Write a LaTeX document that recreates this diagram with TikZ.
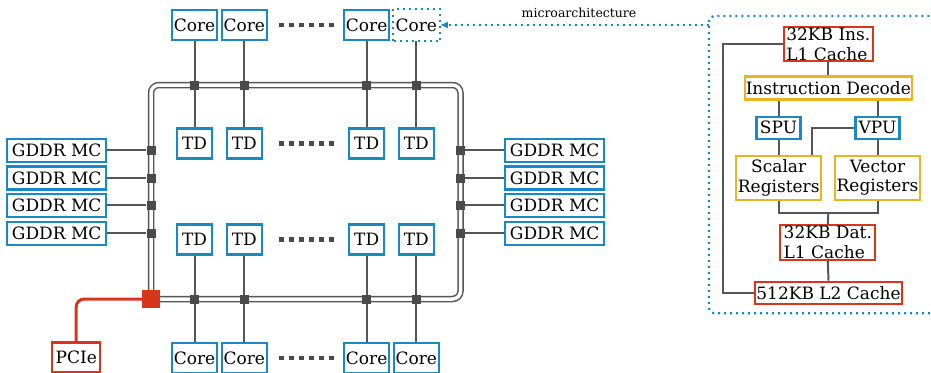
\documentclass[tikz,border=0pt]{standalone}
\usepackage{fontspec}
\setmainfont{DejaVu Serif}
\usetikzlibrary{arrows.meta}
\definecolor{mblue}{HTML}{1B87C4}
\definecolor{mred}{HTML}{D8361C}
\definecolor{myel}{HTML}{E8B420}
\definecolor{mgray}{HTML}{555555}
\definecolor{mjun}{HTML}{4A4A4A}
\tikzset{
  box/.style={draw, line width=2.2pt, fill=white, inner sep=1pt, font=\fontsize{17}{19.5}\selectfont},
  bbox/.style={box, draw=mblue},
  rbox/.style={box, draw=mred},
  ybox/.style={box, draw=myel},
  corebox/.style={bbox, minimum width=45pt, minimum height=30pt},
  tdbox/.style={bbox, minimum width=35pt, minimum height=30pt},
  gbox/.style={bbox, minimum width=99pt, minimum height=23pt},
  jun/.style={rectangle, fill=mjun, inner sep=0pt, minimum size=9pt},
  conn/.style={draw=mgray, line width=2pt},
  ring/.style={draw=mgray, line width=1.5pt, double=white, double distance=3.5pt, rounded corners=8pt},
  bluedot/.style={draw=mblue, line width=2.2pt, dash pattern=on 2pt off 4pt},
  gap/.style={draw=mjun, line width=4.5pt, dash pattern=on 4.5pt off 5.5pt},
}
\begin{document}
\begin{tikzpicture}[x=1pt,y=-1pt]
\useasboundingbox (0,0) rectangle (931,372);
\clip (0,0) rectangle (931,372);
% ring
\path[ring] (151,85) rectangle (460.5,299);
% top cores
\node[corebox] (ct1) at (194.5,25) {Core};
\node[corebox] (ct2) at (244.3,25) {Core};
\node[corebox] (ct3) at (366.7,25) {Core};
\node[corebox, draw=none] (ct4) at (416.3,25) {Core};
\draw[bluedot] (ct4.south west) rectangle (ct4.north east);
% top TDs
\node[tdbox] (tt1) at (194.5,143.5) {TD};
\node[tdbox] (tt2) at (244.3,143.5) {TD};
\node[tdbox] (tt3) at (366.7,143.5) {TD};
\node[tdbox] (tt4) at (416.3,143.5) {TD};
% bottom TDs
\node[tdbox] (tb1) at (194.5,239.5) {TD};
\node[tdbox] (tb2) at (244.3,239.5) {TD};
\node[tdbox] (tb3) at (366.7,239.5) {TD};
\node[tdbox] (tb4) at (416.3,239.5) {TD};
% bottom cores
\node[corebox] (cb1) at (194.5,358) {Core};
\node[corebox] (cb2) at (244.3,358) {Core};
\node[corebox] (cb3) at (366.7,358) {Core};
\node[corebox] (cb4) at (416.3,358) {Core};
% dots
\coordinate (d1a) at (279,25); \coordinate (d1b) at (336,25);
\coordinate (d2a) at (279,143.5); \coordinate (d2b) at (336,143.5);
\coordinate (d3a) at (279,239.5); \coordinate (d3b) at (336,239.5);
\coordinate (d4a) at (279,358); \coordinate (d4b) at (336,358);
\draw[gap] (d1a) -- (d1b);
\draw[gap] (d2a) -- (d2b);
\draw[gap] (d3a) -- (d3b);
\draw[gap] (d4a) -- (d4b);
% vertical connectors
\foreach \i in {1,2,3,4}{
  \draw[conn] (ct\i.south) -- (tt\i.north);
  \draw[conn] (tb\i.south) -- (cb\i.north);
}
% junctions top/bottom
\node[jun] (jt1) at (194.5,85) {};
\node[jun] (jt2) at (244.3,85) {};
\node[jun] (jt3) at (366.7,85) {};
\node[jun] (jt4) at (416.3,85) {};
\node[jun] (jb1) at (194.5,299) {};
\node[jun] (jb2) at (244.3,299) {};
\node[jun] (jb3) at (366.7,299) {};
\node[jun] (jb4) at (416.3,299) {};
% GDDR
\foreach \i/\y in {1/150.3,2/178,3/205.3,4/233.3}{
  \node[gbox] (gl\i) at (56.7,\y) {GDDR MC};
  \node[gbox] (gr\i) at (554.7,\y) {GDDR MC};
  \node[jun] (jl\i) at (151,\y) {};
  \node[jun] (jr\i) at (460.5,\y) {};
  \draw[conn] (gl\i.east) -- (jl\i.west);
  \draw[conn] (gr\i.west) -- (jr\i.east);
}
% PCIe
\node[rbox, minimum width=48pt, minimum height=30pt] (pcie) at (76.2,357.5) {PCIe};
\node[rectangle, fill=mred, inner sep=0pt, minimum size=18pt] (pq) at (151,299) {};
\draw[draw=mred, line width=3pt, rounded corners=8pt] (pq.west) -| (pcie.north);
% microarchitecture frame
\coordinate (ma) at (709,25);
\draw[bluedot, rounded corners=5pt] (960,313.3) -| (709,16) -- (960,16);
\draw[bluedot, -{Latex[length=8pt,width=7pt]}] (ma) -- (ct4.east);
\node[font=\fontsize{12.5}{14}\selectfont, inner sep=0pt] (lab) at (579,13) {microarchitecture};
% micro nodes
\node[rbox, minimum width=89pt, minimum height=34pt, align=left] (l1i) at (828.3,44.2) {32KB Ins.\\L1 Cache};
\node[ybox, minimum width=167pt, minimum height=23pt] (id) at (828.3,88) {Instruction Decode};
\node[bbox, minimum width=44pt, minimum height=22pt] (spu) at (778.5,127.7) {SPU};
\node[bbox, minimum width=44pt, minimum height=22pt] (vpu) at (877.5,127.7) {VPU};
\node[ybox, minimum width=85pt, minimum height=44pt, align=center] (sr) at (778.7,177.8) {Scalar\\Registers};
\node[ybox, minimum width=85pt, minimum height=44pt, align=center] (vr) at (877.5,177.8) {Vector\\Registers};
\node[rbox, minimum width=95pt, minimum height=34pt, align=left] (l1d) at (827.8,242.5) {32KB Dat.\\L1 Cache};
\node[rbox, minimum width=147pt, minimum height=22pt] (l2) at (828.5,292.7) {512KB L2 Cache};
\coordinate (m) at (828.3,213.3);
\draw[conn] (l1i.south) -- (l1i.south |- id.north);
\draw[conn] (spu.north |- id.south) -- (spu.north);
\draw[conn] (vpu.north |- id.south) -- (vpu.north);
\draw[conn] (spu.south) -- (spu.south |- sr.north);
\draw[conn] (vpu.south) -- (vpu.south |- vr.north);
\draw[conn] (vpu.west) -| (811.7,0 |- sr.north);
\draw[conn] (sr.south) |- (m) -| (vr.south);
\draw[conn] (m) -- (l1d.north);
\draw[conn] (l1d.south) -- (l2.north);
\draw[conn] (l1i.west) -| (723.3,0 |- l2.west) -- (l2.west);
\end{tikzpicture}
\end{document}
